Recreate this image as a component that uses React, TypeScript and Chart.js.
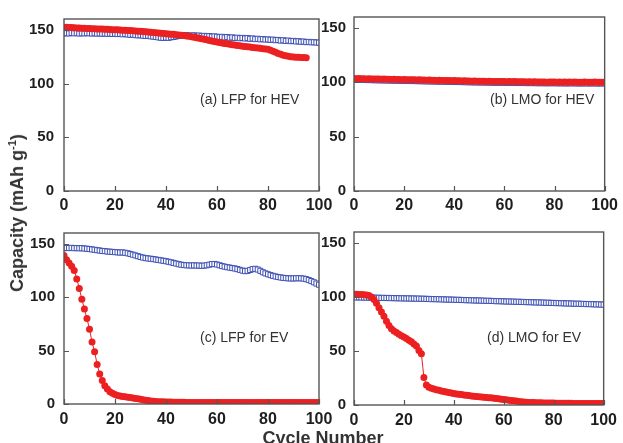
import React, { useEffect, useRef } from "react";
import { Chart, registerables } from "chart.js";
Chart.register(...registerables);

// ---------- data ----------
const cycleNumbers: number[] = Array.from({ length: 101 }, (_, i) => i);
const xTickValues = [0, 20, 40, 60, 80, 100];
const yTickValues = [0, 50, 100, 150];
const panelLabels = ["(a) LFP for HEV", "(b) LMO for HEV", "(c) LFP for EV", "(d) LMO for EV"];
const yAxisTitle = "Capacity (mAh g";
const xAxisTitle = "Cycle Number";

// (a) LFP for HEV
const lfpHevFilled = [
  152.4, 152.3, 152.1, 152, 151.9, 151.7, 151.6, 151.5, 151.3, 151.2,
  151.1, 151, 150.9, 150.8, 150.7, 150.6, 150.5, 150.4, 150.3, 150.1,
  150, 149.9, 149.8, 149.6, 149.5, 149.3, 149.2, 149, 148.8, 148.7,
  148.5, 148.3, 148.1, 147.9, 147.7, 147.5, 147.3, 147, 146.8, 146.5,
  146.3, 146.1, 145.9, 145.7, 145.4, 145.2, 144.9, 144.6, 144.3, 144,
  143.6, 143.1, 142.6, 142.1, 141.6, 141.1, 140.6, 140.1, 139.5, 139,
  138.5, 138.1, 137.7, 137.3, 136.9, 136.5, 136.1, 135.8, 135.4, 135.1,
  134.7, 134.4, 134.2, 133.9, 133.6, 133.3, 133, 132.7, 132.4, 132.1,
  131.8, 131, 130, 129, 128, 127.2, 126.3, 125.8, 125.3, 125,
  124.7, 124.5, 124.4, 124.2, 124.1, 124,
];
const lfpHevOpen = [
  146.5, 146.8, 146.6, 147, 146.7, 146.9, 146.5, 146.8, 146.6, 146.9,
  146.7, 146.5, 146.8, 146.4, 146.6, 146.3, 146.5, 146.2, 146.4, 146.1,
  146.3, 146, 146.2, 145.8, 146, 145.6, 145.3, 145.5, 145, 144.8,
  144.9, 144.5, 144.2, 144.4, 143.9, 143.6, 143.3, 142.9, 142.6, 142.4,
  142.7, 142.5, 143, 143.3, 143.8, 144.2, 144.6, 144.9, 145, 144.7,
  144.5, 144.8, 144.3, 144.6, 144.1, 144.3, 143.9, 144.1, 143.6, 143.8,
  143.5, 143.1, 143.4, 142.8, 143.2, 142.6, 142.9, 142.3, 142.6, 142.1,
  142.4, 141.9, 142.2, 141.6, 141.9, 141.3, 141.6, 141.1, 141.3, 140.9,
  141, 140.6, 140.8, 140.3, 140.5, 139.9, 140.2, 139.6, 139.9, 139.4,
  139.6, 139.1, 139.3, 138.8, 139, 138.5, 138.7, 138.3, 138.4, 138.1,
  138,
];

// (b) LMO for HEV
const lmoHevFilled = [
  103.4, 103.3, 103.4, 103.2, 103.3, 103.1, 103.2, 103, 103.1, 102.9,
  103, 102.8, 102.9, 102.7, 102.8, 102.6, 102.7, 102.5, 102.6, 102.4,
  102.5, 102.3, 102.4, 102.2, 102.3, 102.1, 102.2, 102, 102.1, 101.9,
  102, 101.8, 101.9, 101.7, 101.8, 101.6, 101.7, 101.5, 101.6, 101.4,
  101.5, 101.3, 101.4, 101.2, 101.3, 101.1, 101.2, 101, 101.1, 100.9,
  101, 100.9, 101, 100.8, 100.9, 100.7, 100.8, 100.6, 100.7, 100.6,
  100.7, 100.5, 100.6, 100.5, 100.6, 100.4, 100.5, 100.4, 100.5, 100.3,
  100.4, 100.3, 100.4, 100.2, 100.3, 100.2, 100.3, 100.1, 100.3, 100.2,
  100.3, 100.1, 100.2, 100.1, 100.2, 100, 100.2, 100.1, 100.2, 100,
  100.1, 100, 100.2, 100, 100.1, 100, 100.2, 99.9, 100.1, 100,
  100.1,
];
const lmoHevOpen = [
  102.4, 102.2, 102.3, 102.1, 102.2, 102, 102.1, 101.9, 102, 101.8,
  101.9, 101.7, 101.8, 101.6, 101.7, 101.5, 101.6, 101.4, 101.5, 101.3,
  101.4, 101.2, 101.3, 101.1, 101.2, 101, 101.1, 100.9, 101, 100.8,
  100.9, 100.7, 100.8, 100.6, 100.7, 100.5, 100.6, 100.4, 100.5, 100.3,
  100.4, 100.2, 100.3, 100.1, 100.2, 100, 100.1, 99.9, 100, 99.8,
  99.9, 99.8, 99.9, 99.7, 99.8, 99.6, 99.7, 99.5, 99.6, 99.5,
  99.6, 99.4, 99.5, 99.4, 99.5, 99.3, 99.4, 99.3, 99.4, 99.2,
  99.3, 99.2, 99.3, 99.1, 99.2, 99.1, 99.2, 99, 99.2, 99.1,
  99.2, 99, 99.1, 99, 99.1, 98.9, 99.1, 99, 99.1, 98.9,
  99, 98.9, 99.1, 98.9, 99, 98.9, 99.1, 98.8, 99, 98.9,
  99,
];

// (c) LFP for EV
const lfpEvFilled = [
  139, 135, 132, 129, 125, 117, 108, 98, 89, 80,
  70, 58, 49, 37, 28, 22, 17, 14, 11.5, 10,
  8.8, 8, 7.5, 7, 6.7, 6.3, 6, 5.6, 5.2, 4.8,
  4.4, 4, 3.6, 3.2, 2.9, 2.6, 2.4, 2.2, 2.1, 2,
  1.9, 1.8, 1.8, 1.7, 1.7, 1.6, 1.6, 1.6, 1.5, 1.5,
  1.5, 1.4, 1.5, 1.4, 1.5, 1.4, 1.5, 1.4, 1.5, 1.4,
  1.5, 1.4, 1.5, 1.4, 1.5, 1.4, 1.5, 1.4, 1.5, 1.4,
  1.5, 1.4, 1.5, 1.4, 1.5, 1.4, 1.5, 1.4, 1.5, 1.4,
  1.5, 1.4, 1.5, 1.4, 1.5, 1.4, 1.5, 1.4, 1.5, 1.4,
  1.5, 1.4, 1.5, 1.4, 1.5, 1.4, 1.5, 1.4, 1.5, 1.4,
  1.5,
];
const lfpEvOpen = [
  145.8, 146, 145.9, 146.1, 145.8, 145.9, 145.7, 145.8, 145.5, 145.3,
  145, 144.6, 144.3, 143.9, 143.6, 143.2, 143, 142.7, 142.5, 142.3,
  142.1, 141.9, 141.7, 141.8, 141.5, 141, 140.4, 139.7, 139, 138.3,
  137.6, 137, 136.5, 136.2, 135.9, 135.6, 135.2, 134.8, 134.4, 134,
  133.6, 133.1, 132.6, 132, 131.4, 130.8, 130.3, 130, 129.8, 129.7,
  129.6, 129.7, 129.5, 129.6, 129.3, 129.5, 129.8, 130.4, 130.9, 131,
  130.5, 129.8, 129.1, 128.5, 128, 127.6, 127.2, 126.8, 126.2, 125.5,
  124.8, 124.3, 124.6, 125.4, 126.2, 126.5, 125.8, 124.6, 123.3, 122.2,
  121.4, 120.6, 119.9, 119.3, 118.8, 118.4, 118, 117.8, 117.6, 117.5,
  117.5, 117.6, 117.7, 117.6, 117.3, 116.8, 116, 115, 113.9, 112.7,
  111.6,
];

// (d) LMO for EV
const lmoEvFilled = [
  102.5, 102.4, 102.3, 102.2, 102, 101.8, 101.3, 100, 97.5, 94,
  90, 86, 82, 77.5, 73.5, 70.5, 68.5, 67, 65.5, 64,
  62.8, 61.5, 60, 58.5, 56.5, 54.5, 50.5, 47.5, 25.5, 18.5,
  16.5, 15.5, 14.8, 14.2, 13.6, 13, 12.5, 12, 11.5, 11,
  10.6, 10.2, 9.9, 9.6, 9.3, 9, 8.7, 8.4, 8.1, 7.9,
  7.6, 7.4, 7.2, 7, 6.8, 6.6, 6.3, 6, 5.7, 5.4,
  5.1, 4.8, 4.5, 4.2, 3.9, 3.6, 3.3, 3, 2.8, 2.6,
  2.4, 2.3, 2.2, 2.1, 2, 2, 1.9, 1.9, 1.8, 1.8,
  1.8, 1.7, 1.7, 1.7, 1.6, 1.6, 1.6, 1.6, 1.5, 1.5,
  1.5, 1.5, 1.5, 1.5, 1.5, 1.5, 1.5, 1.5, 1.5, 1.5,
  1.5,
];
const lmoEvOpen = [
  99.6, 99.5, 99.6, 99.4, 99.5, 99.3, 99.4, 99.2, 99.3, 99.1,
  99.2, 99, 99.1, 98.9, 99, 98.8, 98.9, 98.7, 98.8, 98.6,
  98.7, 98.5, 98.6, 98.4, 98.5, 98.3, 98.4, 98.2, 98.3, 98.1,
  98.1, 97.9, 98, 97.8, 97.9, 97.7, 97.7, 97.5, 97.6, 97.4,
  97.4, 97.2, 97.3, 97.1, 97.1, 96.9, 97, 96.8, 96.8, 96.6,
  96.7, 96.5, 96.5, 96.3, 96.4, 96.2, 96.2, 96, 96.1, 95.9,
  95.9, 95.7, 95.8, 95.6, 95.6, 95.4, 95.5, 95.3, 95.3, 95.1,
  95.2, 95, 95, 94.8, 94.9, 94.7, 94.7, 94.5, 94.6, 94.4,
  94.4, 94.2, 94.3, 94.1, 94.1, 93.9, 94, 93.8, 93.8, 93.6,
  93.7, 93.5, 93.5, 93.3, 93.4, 93.2, 93.2, 93, 93.1, 92.9,
  92.8,
];

// ---------- styling ----------
const FONT = '"Liberation Sans", Arial, Helvetica, sans-serif';
const RED = "rgb(236,32,32)";
const BLUE = "rgb(62,80,178)";
const FRAME = "#555555";
const TEXT = "#1e1e1e";

const toPoints = (vals: number[]) => vals.map((v, i) => ({ x: cycleNumbers[i], y: v }));

const framePlugin = {
  id: "frameBox",
  afterDraw(chart: any) {
    const { ctx, chartArea } = chart;
    const { left, top, right, bottom } = chartArea;
    const xs = chart.scales.x;
    const ys = chart.scales.y;
    ctx.save();
    ctx.strokeStyle = FRAME;
    ctx.lineWidth = 1.4;
    ctx.strokeRect(left, top, right - left, bottom - top);
    ctx.beginPath();
    xs.ticks.forEach((t: any) => {
      const px = Math.round(xs.getPixelForValue(t.value)) + 0.5;
      ctx.moveTo(px, bottom);
      ctx.lineTo(px, bottom - 5);
    });
    ys.ticks.forEach((t: any) => {
      const py = Math.round(ys.getPixelForValue(t.value)) + 0.5;
      ctx.moveTo(left, py);
      ctx.lineTo(left + 5, py);
    });
    ctx.lineWidth = 1.2;
    ctx.stroke();
    ctx.restore();
  },
};

type PanelSpec = {
  filled: number[];
  open: number[];
  left: number;
  top: number;
  width: number;
  height: number;
  padTop: number;
  padRight: number;
  yAxisW: number;
  xAxisH: number;
  yPad: number;
  xPad: number;
};

function Panel(p: PanelSpec) {
  const ref = useRef<HTMLCanvasElement>(null);
  useEffect(() => {
    const chart = new Chart(ref.current as HTMLCanvasElement, {
      type: "scatter",
      data: {
        datasets: [
          {
            data: toPoints(p.filled),
            showLine: true,
            borderColor: RED,
            borderWidth: 1,
            pointStyle: "circle",
            pointRadius: 3.5,
            pointBackgroundColor: RED,
            pointBorderColor: RED,
            pointBorderWidth: 0,
          },
          {
            data: toPoints(p.open),
            showLine: false,
            pointStyle: "rect",
            pointRadius: 3.6,
            pointBackgroundColor: "#ffffff",
            pointBorderColor: BLUE,
            pointBorderWidth: 1,
          },
        ],
      },
      options: {
        responsive: false,
        animation: false,
        events: [],
        layout: { padding: { left: 0, top: p.padTop, right: p.padRight, bottom: 0 } },
        plugins: { legend: { display: false }, tooltip: { enabled: false } },
        scales: {
          x: {
            type: "linear",
            min: 0,
            max: 100,
            afterBuildTicks: (s: any) => {
              s.ticks = xTickValues.map((v) => ({ value: v }));
            },
            afterFit: (s: any) => {
              s.height = p.xAxisH;
            },
            grid: { display: false, drawTicks: false },
            border: { display: false },
            ticks: {
              padding: p.xPad,
              color: TEXT,
              maxRotation: 0,
              autoSkip: false,
              font: { family: FONT, size: 16, weight: "bold" },
            },
          },
          y: {
            type: "linear",
            min: 0,
            max: 160,
            afterBuildTicks: (s: any) => {
              s.ticks = yTickValues.map((v) => ({ value: v }));
            },
            afterFit: (s: any) => {
              s.width = p.yAxisW;
            },
            grid: { display: false, drawTicks: false },
            border: { display: false },
            ticks: {
              padding: p.yPad,
              color: TEXT,
              font: { family: FONT, size: 15, weight: "bold" },
            },
          },
        },
      },
      plugins: [framePlugin],
    } as any);
    return () => chart.destroy();
  }, []);
  return (
    <canvas
      ref={ref}
      width={p.width}
      height={p.height}
      style={{ position: "absolute", left: p.left, top: p.top, width: p.width, height: p.height, display: "block" }}
    />
  );
}

const labelStyle: React.CSSProperties = {
  position: "absolute",
  fontFamily: FONT,
  fontSize: 14,
  lineHeight: "16px",
  color: "#333",
  whiteSpace: "nowrap",
};

export default function App() {
  return (
    <div
      style={{
        position: "fixed",
        left: 0,
        top: 0,
        width: 623,
        height: 443,
        overflow: "hidden",
        background: "#fff",
      }}
    >
      <Panel filled={lfpHevFilled} open={lfpHevOpen} left={0} top={0} width={340} height={222}
        padTop={14} padRight={21} yAxisW={64} xAxisH={31} yPad={10} xPad={5} />
      <Panel filled={lmoHevFilled} open={lmoHevOpen} left={318} top={0} width={305} height={222}
        padTop={14} padRight={14} yAxisW={36} xAxisH={31} yPad={8} xPad={5} />
      <Panel filled={lfpEvFilled} open={lfpEvOpen} left={0} top={215} width={340} height={228}
        padTop={12} padRight={21} yAxisW={64} xAxisH={39} yPad={9} xPad={6} />
      <Panel filled={lmoEvFilled} open={lmoEvOpen} left={318} top={215} width={305} height={228}
        padTop={12} padRight={14} yAxisW={36} xAxisH={38} yPad={8} xPad={6} />

      <div style={{ ...labelStyle, left: 200, top: 91 }}>{panelLabels[0]}</div>
      <div style={{ ...labelStyle, left: 490, top: 91 }}>{panelLabels[1]}</div>
      <div style={{ ...labelStyle, left: 200, top: 329 }}>{panelLabels[2]}</div>
      <div style={{ ...labelStyle, left: 487, top: 329 }}>{panelLabels[3]}</div>

      <div
        style={{
          position: "absolute",
          left: 17,
          top: 213,
          transform: "translate(-50%, -50%) rotate(-90deg)",
          fontFamily: FONT,
          fontSize: 18,
          fontWeight: "bold",
          lineHeight: "20px",
          color: "#333",
          whiteSpace: "nowrap",
        }}
      >
        {yAxisTitle}
        <sup style={{ fontSize: 11, lineHeight: 0 }}>-1</sup>)
      </div>
      <div
        style={{
          position: "absolute",
          left: 323,
          top: 429,
          transform: "translateX(-50%)",
          fontFamily: FONT,
          fontSize: 18,
          fontWeight: "bold",
          lineHeight: "18px",
          color: "#333",
          whiteSpace: "nowrap",
        }}
      >
        {xAxisTitle}
      </div>
    </div>
  );
}
